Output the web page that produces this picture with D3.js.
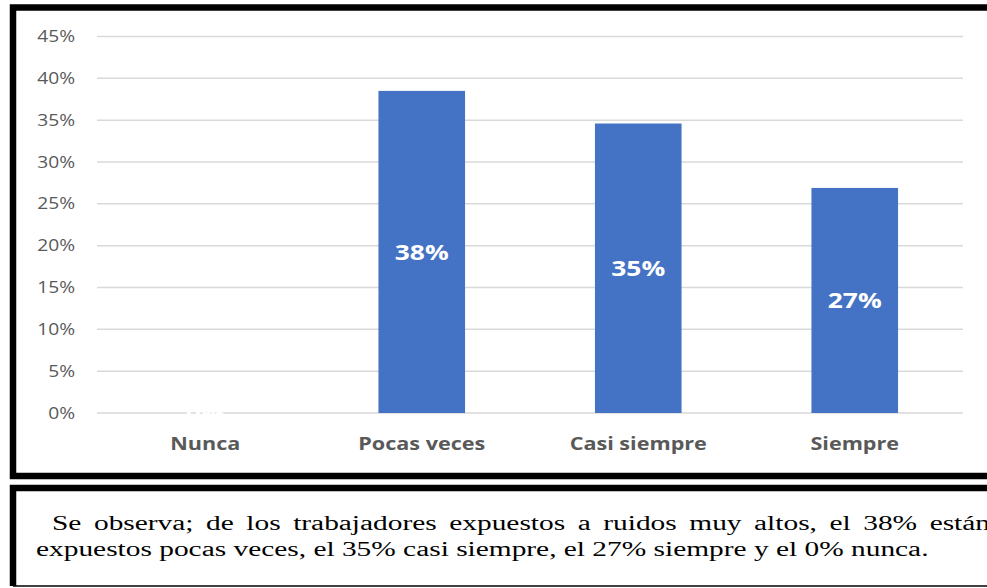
<!DOCTYPE html>
<html>
<head>
<meta charset="utf-8">
<script src="https://cdn.jsdelivr.net/npm/d3@7"></script>
<style>
  body { margin: 0; background: #fff; }
  svg { display: block; }
</style>
</head>
<body>
<div id="chart"></div>
<script>
const categories = ["Nunca", "Pocas veces", "Casi siempre", "Siempre"];
const values = [0, 0.385, 0.346, 0.269];
const valueLabels = ["0%", "38%", "35%", "27%"];
const ticks = [0, 0.05, 0.10, 0.15, 0.20, 0.25, 0.30, 0.35, 0.40, 0.45];
const captionLines = [
  "Se observa; de los trabajadores expuestos a ruidos muy altos, el 38% están",
  "expuestos pocas veces, el 35% casi siempre, el 27% siempre y el 0% nunca."
];

function draw() {
  const width = 987;
  const height = 588;
  const stretch = 1.2;   // the chart text looks horizontally stretched
  const font = "'Open Sans', sans-serif";
  const serif = "'Liberation Serif', 'Times New Roman', serif";

  const svg = d3.select("#chart")
    .append("svg")
    .attr("width", width)
    .attr("height", height);

  // frames
  svg.append("path")
    .attr("d", "M1000,7.5 H13 V476 H1000")
    .attr("fill", "none")
    .attr("stroke", "#000")
    .attr("stroke-width", 6.5);
  svg.append("path")
    .attr("d", "M1000,488 H13 V586")
    .attr("fill", "none")
    .attr("stroke", "#000")
    .attr("stroke-width", 6.5);
  svg.append("line")
    .attr("x1", 13).attr("x2", 1000)
    .attr("y1", 586).attr("y2", 586)
    .attr("stroke", "#000")
    .attr("stroke-width", 1.5);

  const x = d3.scaleBand()
    .domain(categories)
    .range([97, 963])
    .paddingInner(0.6)
    .paddingOuter(0.3);

  const y = d3.scaleLinear()
    .domain([0, 0.45])
    .range([413, 36.5]);

  // gridlines
  svg.append("g")
    .selectAll("line")
    .data(ticks)
    .join("line")
    .attr("x1", 97)
    .attr("x2", 963)
    .attr("y1", d => y(d))
    .attr("y2", d => y(d))
    .attr("stroke", "#d9d9d9")
    .attr("stroke-width", 1.5);

  // y tick labels
  svg.append("g")
    .selectAll("text")
    .data(ticks)
    .join("text")
    .attr("transform", d => `translate(75,${y(d)}) scale(${stretch},1)`)
    .attr("dy", "0.35em")
    .attr("text-anchor", "end")
    .attr("font-family", font)
    .attr("font-size", 16)
    .attr("fill", "#595959")
    .text(d3.format(".0%"));

  // bars
  svg.append("g")
    .selectAll("rect")
    .data(values)
    .join("rect")
    .attr("x", (d, i) => x(categories[i]))
    .attr("width", x.bandwidth())
    .attr("y", d => y(d))
    .attr("height", d => y(0) - y(d))
    .attr("fill", "#4472c4");

  // value labels inside bars
  svg.append("g")
    .selectAll("text")
    .data(values)
    .join("text")
    .attr("transform", (d, i) =>
      `translate(${x(categories[i]) + x.bandwidth() / 2},${(y(d) + y(0)) / 2}) scale(${stretch},1)`)
    .attr("dy", "0.35em")
    .attr("text-anchor", "middle")
    .attr("font-family", font)
    .attr("font-weight", "bold")
    .attr("font-size", 22)
    .attr("fill", "#fff")
    .text((d, i) => valueLabels[i]);

  // category labels
  svg.append("g")
    .selectAll("text")
    .data(categories)
    .join("text")
    .attr("transform", d => `translate(${x(d) + x.bandwidth() / 2},444) scale(${stretch},1)`)
    .attr("dy", "0.35em")
    .attr("text-anchor", "middle")
    .attr("font-family", font)
    .attr("font-weight", "bold")
    .attr("font-size", 18)
    .attr("fill", "#595959")
    .text(d => d);

  // caption: two lines, the first one justified past the right edge
  const capScale = 1.47;
  const line2 = svg.append("text")
    .attr("transform", `translate(36,556) scale(${capScale},1)`)
    .attr("font-family", serif)
    .attr("font-size", 20)
    .attr("fill", "#000")
    .text(captionLines[1]);

  const line1 = svg.append("text")
    .attr("transform", `translate(52,530) scale(${capScale},1)`)
    .attr("font-family", serif)
    .attr("font-size", 20)
    .attr("fill", "#000")
    .text(captionLines[0]);
  const natural = line1.node().getComputedTextLength();
  const target = (990 - 52) / capScale;
  const gaps = captionLines[0].split(" ").length - 1;
  if (target > natural) {
    line1.attr("word-spacing", (target - natural) / gaps);
  }
}
draw();
</script>
</body>
</html>
